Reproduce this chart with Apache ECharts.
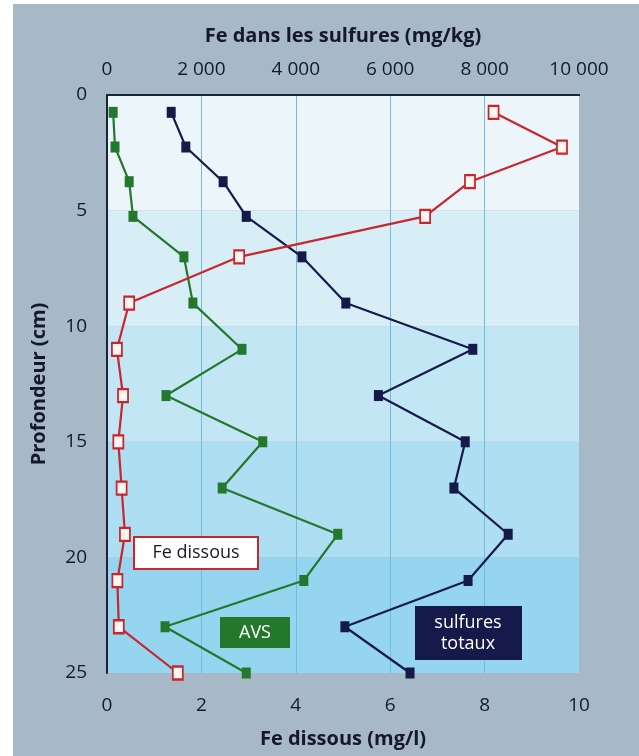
<!DOCTYPE html>
<html>
<head>
<meta charset="utf-8">
<script src="https://cdn.jsdelivr.net/npm/echarts@6/dist/echarts.min.js"></script>
<style>
  html, body { margin: 0; padding: 0; background: #ffffff; }
  #chart { width: 639px; height: 756px; }
</style>
</head>
<body>
<div id="chart"></div>
<script>
// Sampling depths (cm) of the sediment core slices
const depths = [0.75, 2.25, 3.75, 5.25, 7, 9, 11, 13, 15, 17, 19, 21, 23, 25];

// Dissolved iron in pore water (mg/l) — bottom axis
const feDissous = [8.19, 9.64, 7.69, 6.74, 2.80, 0.47, 0.21, 0.34, 0.24, 0.31, 0.38, 0.22, 0.25, 1.50];

// Iron bound to acid-volatile sulfides (mg/kg) — top axis
const avs = [130, 170, 470, 550, 1630, 1820, 2860, 1250, 3300, 2440, 4890, 4170, 1230, 2950];

// Iron in total sulfides (mg/kg) — top axis
const sulfuresTotaux = [1360, 1670, 2460, 2950, 4130, 5060, 7750, 5750, 7590, 7350, 8500, 7650, 5040, 6420];

// Axis tick definitions
const depthTicks = { min: 0, max: 25, interval: 5 };
const dissousTicks = { min: 0, max: 10, interval: 2 };
const sulfuresTicks = { min: 0, max: 10000, interval: 2000 };

const pairs = (vals) => vals.map((v, i) => [v, depths[i]]);
const fmtThousands = (v) => {
  const s = String(Math.round(v));
  return s.replace(/\B(?=(\d{3})+(?!\d))/g, ' ');
};

const FONT = '"Open Sans", "Noto Sans", sans-serif';
const INK = '#15182a';
const NAVY = '#161a4a';
const GREEN = '#24782c';
const RED = '#c8252c';

const chart = echarts.init(document.getElementById('chart'), null, { renderer: 'canvas' });

chart.setOption({
  backgroundColor: '#ffffff',
  animation: false,
  textStyle: { fontFamily: FONT },
  grid: { left: 107, top: 95, width: 472, height: 578, containLabel: false },
  xAxis: [
    {
      type: 'value',
      position: 'bottom',
      min: dissousTicks.min, max: dissousTicks.max, interval: dissousTicks.interval,
      name: 'Fe dissous (mg/l)',
      nameLocation: 'middle',
      nameGap: 56,
      nameTextStyle: { fontFamily: FONT, fontWeight: 'bold', fontSize: 20, color: INK },
      axisLine: { show: true, lineStyle: { color: '#1c2438', width: 2 } },
      axisTick: { show: false },
      axisLabel: { margin: 23, fontFamily: FONT, fontSize: 19, color: INK },
      splitLine: { show: true, showMinLine: false, showMaxLine: false, lineStyle: { color: '#6fbde0', width: 1 } }
    },
    {
      type: 'value',
      position: 'top',
      min: sulfuresTicks.min, max: sulfuresTicks.max, interval: sulfuresTicks.interval,
      name: 'Fe dans les sulfures (mg/kg)',
      nameLocation: 'middle',
      nameGap: 49,
      nameTextStyle: { fontFamily: FONT, fontWeight: 'bold', fontSize: 20, color: INK },
      axisLine: { show: true, lineStyle: { color: '#1c2438', width: 2 } },
      axisTick: { show: false },
      axisLabel: { margin: 16, fontFamily: FONT, fontSize: 19, color: INK, formatter: fmtThousands },
      splitLine: { show: false }
    }
  ],
  yAxis: {
    type: 'value',
    inverse: true,
    min: depthTicks.min, max: depthTicks.max, interval: depthTicks.interval,
    name: 'Profondeur (cm)',
    nameLocation: 'middle',
    nameGap: 58,
    nameRotate: 90,
    nameTextStyle: { fontFamily: FONT, fontWeight: 'bold', fontSize: 20, color: INK },
    axisLine: { show: true, lineStyle: { color: '#1c2438', width: 2 } },
    axisTick: { show: false },
    axisLabel: { margin: 20, fontFamily: FONT, fontSize: 19, color: INK, padding: [0, 0, 10, 0] },
    splitLine: { show: false },
    splitArea: {
      show: true,
      areaStyle: { color: ['#ecf5fa', '#d7eef7', '#c3e6f4', '#aedef2', '#96d5f0'] }
    }
  },
  series: [
    {
      name: 'Fe dissous',
      type: 'line',
      xAxisIndex: 0,
      data: pairs(feDissous),
      symbol: 'rect',
      symbolSize: [10, 13],
      lineStyle: { color: RED, width: 2.2 },
      itemStyle: { color: '#fff6f2', borderColor: RED, borderWidth: 2 },
      z: 4
    },
    {
      name: 'AVS',
      type: 'line',
      xAxisIndex: 1,
      data: pairs(avs),
      symbol: 'rect',
      symbolSize: [9, 11],
      lineStyle: { color: GREEN, width: 2.2 },
      itemStyle: { color: GREEN, borderColor: GREEN, borderWidth: 0 },
      z: 3
    },
    {
      name: 'sulfures totaux',
      type: 'line',
      xAxisIndex: 1,
      data: pairs(sulfuresTotaux),
      symbol: 'rect',
      symbolSize: [9, 11],
      lineStyle: { color: NAVY, width: 2.2 },
      itemStyle: { color: NAVY, borderColor: NAVY, borderWidth: 0 },
      z: 3
    }
  ],
  graphic: {
    elements: [
      // panel backdrop
      { type: 'rect', z: -10, silent: true, shape: { x: 13, y: 4, width: 626, height: 752 }, style: { fill: '#a7b8c7' } },
      // series labels
      { type: 'rect', z: 100, shape: { x: 134, y: 537, width: 124, height: 32 }, style: { fill: '#ffffff', stroke: RED, lineWidth: 2 } },
      { type: 'text', z: 101, x: 196, y: 553, style: { text: 'Fe dissous', fill: INK, fontFamily: FONT, fontSize: 18, align: 'center', verticalAlign: 'middle' } },
      { type: 'rect', z: 100, shape: { x: 220, y: 617, width: 70, height: 31 }, style: { fill: GREEN } },
      { type: 'text', z: 101, x: 255, y: 633, style: { text: 'AVS', fill: '#ffffff', fontFamily: FONT, fontSize: 18, align: 'center', verticalAlign: 'middle' } },
      { type: 'rect', z: 100, shape: { x: 415, y: 606, width: 107, height: 54 }, style: { fill: NAVY } },
      { type: 'text', z: 101, x: 468, y: 633, style: { text: 'sulfures\ntotaux', fill: '#ffffff', fontFamily: FONT, fontSize: 18, lineHeight: 21, align: 'center', verticalAlign: 'middle' } }
    ]
  }
});
</script>
</body>
</html>
